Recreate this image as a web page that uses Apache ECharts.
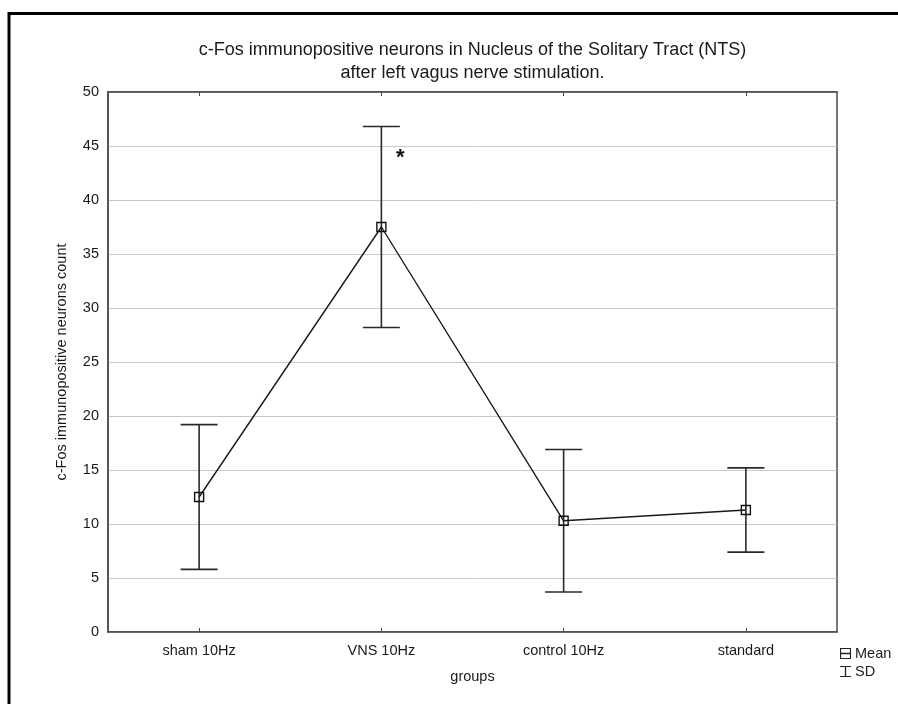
<!DOCTYPE html>
<html>
<head>
<meta charset="utf-8">
<script src="https://cdn.jsdelivr.net/npm/echarts@6/dist/echarts.min.js"></script>
<style>html,body{margin:0;padding:0;background:#fff;}#c{width:898px;height:704px;}</style>
</head>
<body>
<div id="c"></div>
<script>
var categories = ['sham 10Hz', 'VNS 10Hz', 'control 10Hz', 'standard'];
var means = [12.5, 37.5, 10.3, 11.3];
var sds = [6.7, 9.3, 6.6, 3.9];
var yTicks = [0, 5, 10, 15, 20, 25, 30, 35, 40, 45, 50];
var annotation = { category: 'VNS 10Hz', value: 43.9, text: '*' };

var FONT = 'Liberation Sans, Arial, sans-serif';
var chart = echarts.init(document.getElementById('c'), null, { renderer: 'canvas' });

var errData = categories.map(function (c, i) { return [i, means[i] - sds[i], means[i] + sds[i]]; });

var option = {
  backgroundColor: '#fff',
  animation: false,
  textStyle: { fontFamily: FONT },
  grid: { left: 108, top: 92, width: 729, height: 540, show: true, borderColor: '#4a4a4a', borderWidth: 1.5, backgroundColor: 'transparent' },
  legend: {
    orient: 'vertical', left: 840, top: 646, padding: 0, itemGap: 3,
    itemWidth: 11, itemHeight: 11,
    textStyle: { fontFamily: FONT, fontSize: 14.5, color: '#222', padding: [0, 0, 0, -1] },
    data: [
      { name: 'Mean', icon: 'path://M0,0H10V10H0Z M1,1V4.4H9V1Z M1,5.6V9H9V5.6Z', itemStyle: { color: '#222', borderWidth: 0 } },
      { name: 'SD', icon: 'path://M0,0H10V1H5.6V9H10V10H0V9H4.4V1H0Z', itemStyle: { color: '#222', borderWidth: 0 } }
    ]
  },
  graphic: [
    { type: 'rect', silent: true, shape: { x: 9, y: 13.5, width: 1000, height: 1000 }, style: { fill: 'none', stroke: '#000', lineWidth: 3 }, z: 100 },
    { type: 'text', x: 472.5, y: 62, style: { text: 'c-Fos immunopositive neurons in Nucleus of the Solitary Tract (NTS)\nafter left vagus nerve stimulation.', align: 'center', verticalAlign: 'middle', font: '18px ' + FONT, lineHeight: 23, fill: '#1a1a1a' } }
  ],
  xAxis: [
    {
      type: 'category', data: categories, position: 'bottom', boundaryGap: true,
      axisLine: { show: true, lineStyle: { color: '#4a4a4a', width: 1.5 } },
      axisTick: { show: true, alignWithLabel: true, inside: true, length: 4, lineStyle: { color: '#4a4a4a', width: 1 } },
      axisLabel: { fontFamily: FONT, fontSize: 14.5, color: '#1a1a1a', margin: 11 },
      splitLine: { show: false },
      name: 'groups', nameLocation: 'middle', nameGap: 37,
      nameTextStyle: { fontFamily: FONT, fontSize: 14.5, color: '#1a1a1a' }
    },
    {
      type: 'category', data: categories, position: 'top', boundaryGap: true,
      axisLine: { show: true, lineStyle: { color: '#4a4a4a', width: 1.5 } },
      axisTick: { show: true, alignWithLabel: true, inside: true, length: 4, lineStyle: { color: '#4a4a4a', width: 1 } },
      axisLabel: { show: false }, splitLine: { show: false }
    }
  ],
  yAxis: [
    {
      type: 'value', min: yTicks[0], max: yTicks[yTicks.length - 1], interval: 5,
      axisLine: { show: true, lineStyle: { color: '#4a4a4a', width: 1.5 } },
      axisTick: { show: false },
      axisLabel: { fontFamily: FONT, fontSize: 14.5, color: '#1a1a1a', margin: 9 },
      splitLine: { show: true, lineStyle: { color: '#c8c8c8', width: 1 } },
      name: 'c-Fos immunopositive neurons count', nameLocation: 'middle', nameGap: 39,
      nameTextStyle: { fontFamily: FONT, fontSize: 14.5, color: '#1a1a1a' }
    }
  ],
  series: [
    {
      name: 'SD', type: 'custom', xAxisIndex: 0, yAxisIndex: 0, z: 2,
      itemStyle: { color: '#222' },
      data: errData,
      renderItem: function (params, api) {
        var x = api.value(0);
        var lo = api.coord([x, api.value(1)]);
        var hi = api.coord([x, api.value(2)]);
        var hw = 18.5;
        var st = { stroke: '#2a2a2a', lineWidth: 1.6, fill: 'none' };
        return {
          type: 'group',
          children: [
            { type: 'line', shape: { x1: hi[0], y1: hi[1], x2: lo[0], y2: lo[1] }, style: st },
            { type: 'line', shape: { x1: hi[0] - hw, y1: hi[1], x2: hi[0] + hw, y2: hi[1] }, style: st },
            { type: 'line', shape: { x1: lo[0] - hw, y1: lo[1], x2: lo[0] + hw, y2: lo[1] }, style: st }
          ]
        };
      }
    },
    {
      name: 'Mean', type: 'line', xAxisIndex: 0, yAxisIndex: 0, z: 3,
      data: means,
      symbol: 'rect', symbolSize: 9,
      itemStyle: { color: 'rgba(0,0,0,0)', borderColor: '#111', borderWidth: 1.4 },
      lineStyle: { color: '#1a1a1a', width: 1.4 },
      markPoint: {
        symbol: 'circle', symbolSize: 0,
        label: { show: true, formatter: annotation.text, fontFamily: FONT, fontSize: 22, fontWeight: 'bold', color: '#111', offset: [19, 0] },
        data: [{ coord: [annotation.category, annotation.value] }]
      }
    }
  ]
};
chart.setOption(option);
</script>
</body>
</html>
